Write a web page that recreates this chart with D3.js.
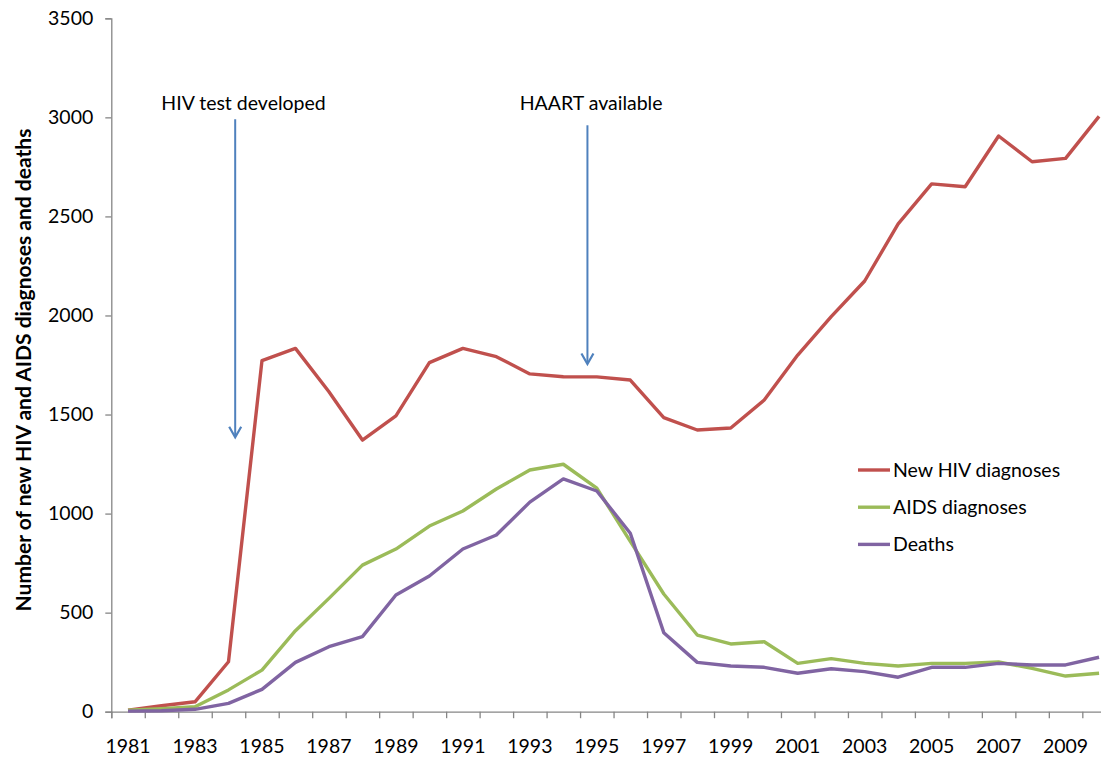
<!DOCTYPE html>
<html>
<head>
<meta charset="utf-8">
<script src="https://cdn.jsdelivr.net/npm/d3@7"></script>
<style>
  html, body { margin: 0; padding: 0; background: #fff; }
  svg { display: block; }
  text { font-family: Lato, "Open Sans", sans-serif; fill: #000; }
</style>
</head>
<body>
<svg id="chart" width="1101" height="758"></svg>
<script>
// Annual counts, 1981–2010
const years = d3.range(1981, 2011);
const newHiv = [8, 30, 50, 252, 1772, 1834, 1615, 1371, 1493, 1762,
                1834, 1792, 1705, 1691, 1690, 1674, 1484, 1422, 1432, 1573,
                1800, 1994, 2174, 2462, 2664, 2650, 2906, 2776, 2793, 3005];
const aids = [8, 15, 25, 110, 210, 409, 572, 740, 821, 937,
              1013, 1124, 1220, 1249, 1128, 860, 594, 387, 342, 353,
              244, 268, 244, 231, 244, 244, 251, 219, 180, 194];
const deaths = [3, 5, 12, 42, 113, 249, 328, 379, 589, 685,
                821, 892, 1058, 1175, 1114, 901, 399, 249, 231, 224,
                194, 217, 202, 174, 224, 224, 244, 236, 236, 275];
const yTicks = [0, 500, 1000, 1500, 2000, 2500, 3000, 3500];
const xLabels = d3.range(1981, 2010, 2);

const series = [
  { name: "New HIV diagnoses", values: newHiv, color: "#C0504D" },
  { name: "AIDS diagnoses", values: aids, color: "#9BBB59" },
  { name: "Deaths", values: deaths, color: "#8064A2" }
];

const notes = [
  { text: "HIV test developed", year: 1984.2, textYear: 1984.45, from: 2990, to: 1385 },
  { text: "HAART available", year: 1994.72, textYear: 1994.83, from: 2960, to: 1755 }
];

const svg = d3.select("#chart");
const plotLeft = 111.3, plotRight = 1115.8, plotTop = 18.3, plotBottom = 711.7;

const x = d3.scaleLinear().domain([1980.5, 2010.5]).range([plotLeft, plotRight]);
const y = d3.scaleLinear().domain([0, 3500]).range([plotBottom, plotTop]);
const axisColor = "#868686";

// Y axis
const yAxis = svg.append("g")
  .attr("transform", `translate(${plotLeft},0)`)
  .call(d3.axisLeft(y).tickValues(yTicks).tickSize(6).tickPadding(12).tickFormat(d3.format("d")));
yAxis.select(".domain").attr("stroke", axisColor).attr("stroke-width", 1.3);
yAxis.selectAll(".tick line").attr("stroke", axisColor).attr("stroke-width", 1.3);
yAxis.selectAll(".tick text").attr("font-size", 19.5).attr("font-family", "Lato").attr("fill", "#000");

// X axis: tick marks between categories, labels on alternate years
const xAxis = svg.append("g")
  .attr("transform", `translate(0,${plotBottom})`)
  .call(d3.axisBottom(x).tickValues(d3.range(1980.5, 2011, 1)).tickSize(6.5).tickFormat(""));
xAxis.select(".domain").attr("stroke", axisColor).attr("stroke-width", 1.3);
xAxis.selectAll(".tick line").attr("stroke", axisColor).attr("stroke-width", 1.3);

svg.append("g").selectAll("text")
  .data(xLabels)
  .join("text")
  .attr("x", d => x(d))
  .attr("y", 753)
  .attr("text-anchor", "middle")
  .attr("font-size", 19.5)
  .text(d => d);

// Y axis title
svg.append("text")
  .attr("transform", `translate(31,370) rotate(-90)`)
  .attr("text-anchor", "middle")
  .attr("font-weight", "bold")
  .attr("font-size", 21)
  .text("Number of new HIV and AIDS diagnoses and deaths");

// Series lines
const line = d3.line().x((d, i) => x(years[i])).y(d => y(d));
svg.append("g").selectAll("path")
  .data(series)
  .join("path")
  .attr("d", d => line(d.values))
  .attr("fill", "none")
  .attr("stroke", d => d.color)
  .attr("stroke-width", 3.4)
  .attr("stroke-linejoin", "round");

// Annotations with downward arrows
const arrowColor = "#4F81BD";
const ann = svg.append("g");
notes.forEach(n => {
  const ax = x(n.year), y0 = y(n.from), y1 = y(n.to);
  ann.append("text")
    .attr("x", x(n.textYear))
    .attr("y", 110)
    .attr("text-anchor", "middle")
    .attr("font-size", 19.5)
    .text(n.text);
  ann.append("line")
    .attr("x1", ax).attr("x2", ax).attr("y1", y0).attr("y2", y1 - 1)
    .attr("stroke", arrowColor).attr("stroke-width", 2);
  ann.append("path")
    .attr("d", `M${ax - 6},${y1 - 10.5} L${ax},${y1} L${ax + 6},${y1 - 10.5}`)
    .attr("fill", "none")
    .attr("stroke", arrowColor)
    .attr("stroke-width", 2.2);
});

// Legend
const legend = svg.append("g");
series.forEach((s, i) => {
  const ly = 470 + i * 37.2;
  legend.append("line")
    .attr("x1", 858).attr("x2", 890).attr("y1", ly).attr("y2", ly)
    .attr("stroke", s.color).attr("stroke-width", 3.4);
  legend.append("text")
    .attr("x", 893).attr("y", ly)
    .attr("dy", "0.35em")
    .attr("font-size", 19.5)
    .text(s.name);
});
</script>
</body>
</html>
